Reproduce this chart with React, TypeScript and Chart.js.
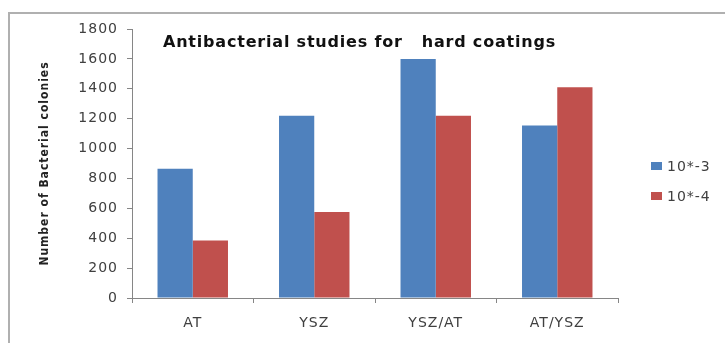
import React, { useEffect, useRef } from "react";
import { Chart, registerables } from "chart.js";

Chart.register(...registerables);

// Coatings tested
const categories = ["AT", "YSZ", "YSZ/AT", "AT/YSZ"];
// Colony counts at each dilution
const dilution3 = [865, 1220, 1600, 1155];
const dilution4 = [385, 575, 1220, 1410];
const seriesLabels = ["10*-3", "10*-4"];
const seriesColors = ["#4F81BD", "#C0504D"];
const yTicks = { min: 0, max: 1800, step: 200 };

const chartTitle = "Antibacterial studies for   hard coatings";
const yAxisTitle = "Number of Bacterial colonies";

const WIDTH = 725;
const HEIGHT = 343;
const TEXT = "#404040";
const AXIS = "#868686";

// Slightly wider text spacing for every label on the canvas
const spacingPlugin = {
  id: "spacing",
  beforeDraw(chart: any) {
    (chart.ctx as any).letterSpacing = "1px";
  },
};

// Title inside the plot and a legend to the right of it
const overlayPlugin = {
  id: "overlay",
  afterDraw(chart: any) {
    const ctx = chart.ctx as CanvasRenderingContext2D;
    ctx.save();
    (ctx as any).letterSpacing = "0.8px";
    ctx.fillStyle = "#111";
    ctx.font = "bold 16px 'DejaVu Sans'";
    ctx.textAlign = "left";
    ctx.textBaseline = "middle";
    ctx.fillText(chartTitle, 163, 43);

    (ctx as any).letterSpacing = "1px";
    ctx.font = "14px 'DejaVu Sans'";
    chart.data.datasets.forEach((ds: any, i: number) => {
      const y = 166 + i * 30;
      ctx.fillStyle = ds.backgroundColor;
      ctx.fillRect(651, y - 4, 11, 8);
      ctx.fillStyle = TEXT;
      ctx.fillText(ds.label, 667, y + 1);
    });
    ctx.restore();
  },
};

export default function App() {
  const canvasRef = useRef<HTMLCanvasElement | null>(null);

  useEffect(() => {
    if (!canvasRef.current) return;
    const chart = new Chart(canvasRef.current, {
      type: "bar",
      data: {
        labels: categories,
        datasets: [
          { label: seriesLabels[0], data: dilution3, backgroundColor: seriesColors[0] },
          { label: seriesLabels[1], data: dilution4, backgroundColor: seriesColors[1] },
        ],
      },
      options: {
        responsive: false,
        animation: false,
        devicePixelRatio: 1,
        layout: { padding: { left: 0, top: 29, right: 107, bottom: 0 } },
        datasets: {
          bar: { categoryPercentage: 0.58, barPercentage: 1 },
        },
        plugins: {
          legend: { display: false },
          title: { display: false },
          tooltip: { enabled: false },
        },
        scales: {
          x: {
            afterFit: (s: any) => {
              s.height = 45;
            },
            grid: {
              offset: true,
              drawOnChartArea: false,
              drawTicks: true,
              tickLength: 5,
              color: AXIS,
            },
            border: { color: AXIS },
            ticks: {
              color: TEXT,
              padding: 12,
              font: { family: "'DejaVu Sans'", size: 14 },
            },
          },
          y: {
            min: yTicks.min,
            max: yTicks.max,
            afterFit: (s: any) => {
              s.width = 132;
            },
            grid: {
              drawOnChartArea: false,
              drawTicks: true,
              tickLength: 5,
              color: AXIS,
            },
            border: { color: AXIS },
            ticks: {
              stepSize: yTicks.step,
              color: TEXT,
              padding: 9,
              font: { family: "'DejaVu Sans'", size: 14 },
              callback: (v: any) => String(v),
            },
            title: {
              display: true,
              text: yAxisTitle,
              color: "#222",
              padding: { top: 38, bottom: 0 },
              font: { family: "'DejaVu Sans Condensed'", size: 12, weight: "bold" },
            },
          },
        },
      },
      plugins: [spacingPlugin, overlayPlugin],
    } as any);
    return () => chart.destroy();
  }, []);

  return (
    <div
      style={{
        position: "fixed",
        left: 0,
        top: 0,
        width: WIDTH,
        height: HEIGHT,
        overflow: "hidden",
        background: "#fff",
      }}
    >
      <div
        style={{
          position: "absolute",
          left: 8,
          top: 12,
          width: 800,
          height: 400,
          borderLeft: "2px solid #b0b0b0",
          borderTop: "2px solid #b0b0b0",
        }}
      />
      <canvas
        ref={canvasRef}
        width={WIDTH}
        height={HEIGHT}
        style={{ position: "absolute", left: 0, top: 0 }}
      />
    </div>
  );
}
